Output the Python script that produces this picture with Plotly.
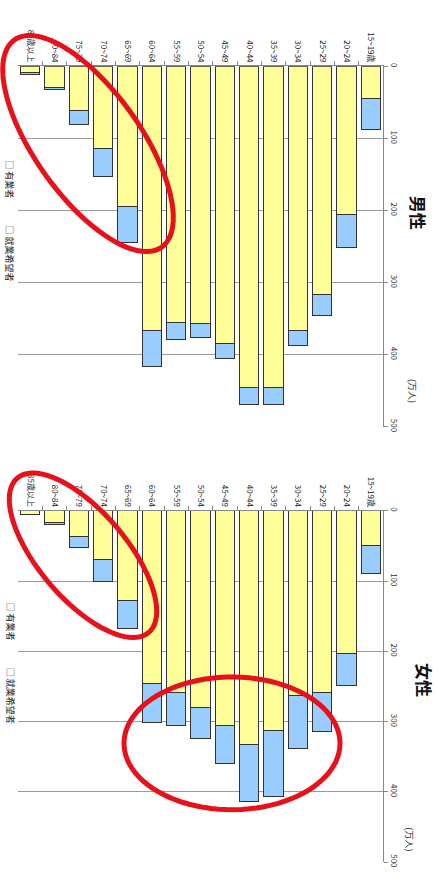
import numpy as np
import plotly.graph_objects as go

W, H = 438, 878

ages = ["15~19歳", "20~24", "25~29", "30~34", "35~39", "40~44", "45~49",
        "50~54", "55~59", "60~64", "65~69", "70~74", "75~79", "80~84", "85歳以上"]
male_employed = [45, 205, 317, 366, 446, 446, 384, 357, 355, 366, 194, 114, 61, 29, 9]
male_seeking = [43, 47, 29, 22, 24, 24, 21, 19, 24, 51, 51, 39, 20, 3, 2]
female_employed = [49, 203, 259, 263, 313, 332, 305, 280, 259, 246, 128, 70, 37, 17, 5]
female_seeking = [41, 45, 55, 75, 93, 82, 54, 44, 47, 55, 40, 31, 15, 3, 1]
value_ticks = [0, 100, 200, 300, 400, 500]

FONT = "Noto Sans CJK JP"
YELLOW = "#FFFF99"
BLUE = "#99CCFF"
EDGE = "#333333"


def px(x):
    return x / W


def py(y):
    return 1 - y / H


fig = go.Figure()
for emp, seek, xa, ya in [(male_employed, male_seeking, "x", "y"),
                          (female_employed, female_seeking, "x2", "y2")]:
    fig.add_trace(go.Bar(x=ages, y=emp, xaxis=xa, yaxis=ya, name="有業者",
                         marker=dict(color=YELLOW, line=dict(color=EDGE, width=1)),
                         showlegend=False))
    fig.add_trace(go.Bar(x=ages, y=seek, xaxis=xa, yaxis=ya, name="就業希望者",
                         marker=dict(color=BLUE, line=dict(color=EDGE, width=1)),
                         showlegend=False))

xcommon = dict(side="top", tickangle=90, ticks="outside", ticklen=4, tickson="boundaries",
               tickcolor="#888", showline=True, linecolor="#888", linewidth=1,
               autorange="reversed", tickfont=dict(size=8, color="#222", family=FONT),
               showgrid=False, domain=[px(18), px(383)], fixedrange=True)
ycommon = dict(side="right", range=[500, 0], tickvals=value_ticks, showgrid=True,
               gridcolor="#9a9a9a", gridwidth=1, showline=True, linecolor="#888",
               ticks="outside", ticklen=4, tickcolor="#888", tickangle=90,
               tickfont=dict(size=8, color="#333", family=FONT), zeroline=False)

fig.update_layout(
    width=W, height=H, autosize=False,
    margin=dict(l=0, r=0, t=0, b=0),
    paper_bgcolor="white", plot_bgcolor="white",
    barmode="stack", bargap=0.2,
    font=dict(family=FONT),
    xaxis=dict(anchor="y", **xcommon),
    yaxis=dict(anchor="x", domain=[py(428), py(64)], **ycommon),
    xaxis2=dict(anchor="y2", **xcommon),
    yaxis2=dict(anchor="x2", domain=[py(868), py(513)], **ycommon),
)

annotations = [
    dict(text="<b>男性</b>", x=px(418), y=py(212), font=dict(size=17, color="#111")),
    dict(text="<b>女性</b>", x=px(424), y=py(684), font=dict(size=17, color="#111")),
    dict(text="(万人)", x=px(412), y=py(392), font=dict(size=9, color="#333")),
    dict(text="(万人)", x=px(410), y=py(845), font=dict(size=9, color="#333")),
    dict(text="□ 有業者", x=px(10), y=py(178), font=dict(size=9, color="#222")),
    dict(text="□ 就業希望者", x=px(10), y=py(253), font=dict(size=9, color="#222")),
    dict(text="□ 有業者", x=px(10), y=py(625), font=dict(size=9, color="#222")),
    dict(text="□ 就業希望者", x=px(10), y=py(700), font=dict(size=9, color="#222")),
]
for a in annotations:
    a.update(xref="paper", yref="paper", showarrow=False, textangle=90,
             xanchor="center", yanchor="middle")
fig.update_layout(annotations=annotations)


def ellipse_path(cx, cy, a, b, ang, n=90):
    t = np.linspace(0, 2 * np.pi, n)
    th = np.radians(ang)
    xs = cx + a * np.cos(t) * np.cos(th) - b * np.sin(t) * np.sin(th)
    ys = cy + a * np.cos(t) * np.sin(th) + b * np.sin(t) * np.cos(th)
    pts = [f"{px(x):.5f},{py(y):.5f}" for x, y in zip(xs, ys)]
    return "M " + " L ".join(pts) + " Z"


RED = "#E8101A"
shapes = []
for cx, cy, a, b, ang in [(88, 142, 128, 53, 55), (83, 558, 102, 44, 50), (232, 748, 108, 67, 0)]:
    shapes.append(dict(type="path", path=ellipse_path(cx, cy, a, b, ang),
                       xref="paper", yref="paper", line=dict(color=RED, width=5),
                       fillcolor="rgba(0,0,0,0)", layer="above"))
fig.update_layout(shapes=shapes)

fig.write_html("out.html")
